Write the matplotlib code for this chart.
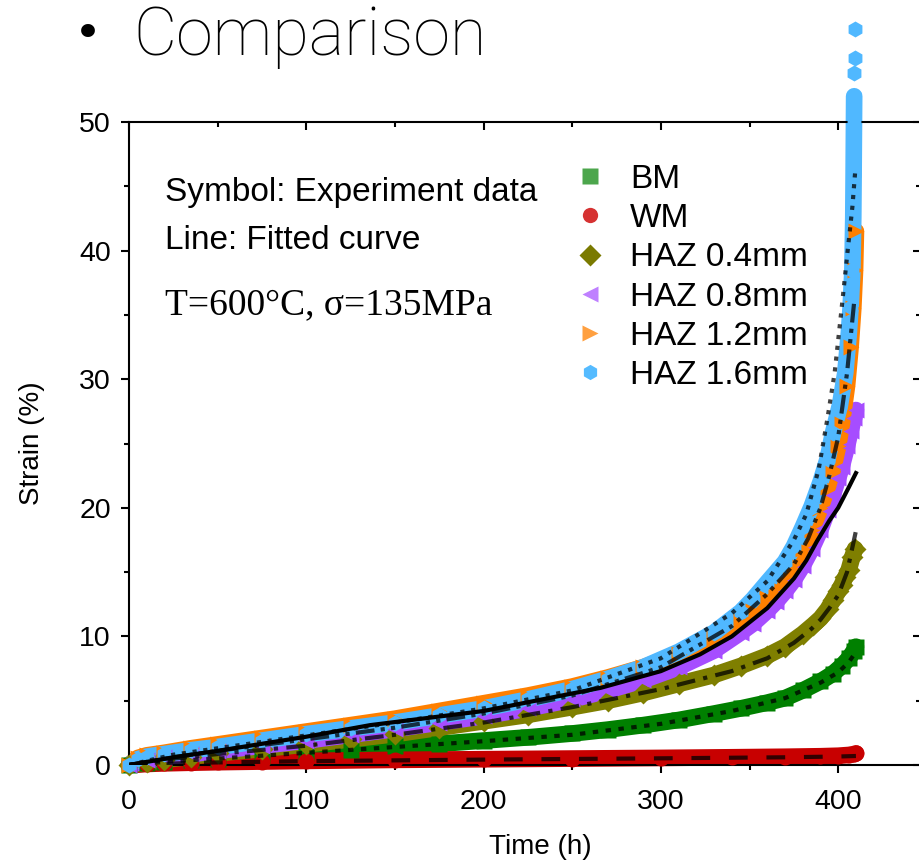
import matplotlib
matplotlib.use("Agg")
import matplotlib.pyplot as plt
from matplotlib.lines import Line2D
from matplotlib.ticker import MultipleLocator

plt.rcParams['font.family'] = ['Liberation Sans', 'DejaVu Sans']

bm_t = [0, 10, 20, 35, 50, 75, 100, 125, 150, 175, 200, 225, 250, 270, 290, 310, 330, 345, 360, 370, 380, 390, 397, 402, 406, 409, 410]
bm_e = [0, 0.12, 0.25, 0.38, 0.5, 0.72, 0.95, 1.2, 1.45, 1.65, 1.9, 2.15, 2.45, 2.75, 3.1, 3.5, 4.0, 4.4, 4.85, 5.2, 5.8, 6.5, 7.1, 7.7, 8.3, 8.9, 9.2]

wm_t = [0, 10, 20, 35, 50, 75, 100, 150, 200, 250, 300, 340, 370, 390, 400, 406, 409, 410]
wm_e = [0, 0.08, 0.13, 0.18, 0.22, 0.27, 0.32, 0.4, 0.45, 0.5, 0.55, 0.6, 0.64, 0.68, 0.72, 0.78, 0.85, 0.9]

h04_t = [0, 10, 20, 35, 50, 75, 100, 125, 150, 175, 200, 225, 250, 270, 290, 310, 330, 345, 360, 370, 380, 386, 390, 394, 397, 400, 402, 404, 406, 408, 409.5]
h04_e = [0, 0.2, 0.4, 0.65, 0.9, 1.25, 1.6, 2.0, 2.4, 2.9, 3.4, 3.9, 4.5, 5.0, 5.6, 6.3, 7.0, 7.7, 8.5, 9.2, 10.2, 10.9, 11.4, 12.1, 12.8, 13.5, 14.0, 14.6, 15.2, 16.2, 16.8]

h08_t = [0, 10, 20, 35, 50, 75, 100, 125, 150, 175, 200, 225, 250, 270, 290, 310, 330, 345, 352, 360, 365, 370, 375, 380, 385, 390, 394, 397, 400, 402, 405, 407, 409, 410]
h08_e = [0, 0.35, 0.6, 0.85, 1.1, 1.5, 1.9, 2.35, 2.8, 3.3, 3.8, 4.4, 5.1, 5.8, 6.6, 7.6, 8.9, 10.3, 11.0, 12.0, 12.7, 13.5, 14.4, 15.5, 16.8, 18.3, 19.8, 21.0, 22.3, 23.2, 24.8, 26.0, 27.0, 27.6]

h12_t = [0, 5, 10, 20, 35, 50, 75, 100, 125, 150, 175, 200, 225, 250, 270, 290, 310, 330, 345, 352, 360, 365, 370, 375, 380, 385, 390, 394, 397, 400, 402, 405, 407, 408.5, 409.5, 410]
h12_e = [0, 0.55, 0.75, 0.95, 1.3, 1.6, 2.1, 2.6, 3.1, 3.6, 4.2, 4.8, 5.4, 6.1, 6.8, 7.6, 8.6, 9.9, 11.2, 12.0, 13.0, 13.8, 14.6, 15.6, 16.8, 18.3, 20.0, 21.6, 23.0, 24.8, 26.5, 29.5, 32.5, 35.5, 38.5, 41.5]

h16_t = [0, 5, 10, 20, 35, 50, 75, 100, 125, 150, 175, 200, 225, 250, 270, 290, 310, 330, 345, 352, 360, 365, 370, 375, 380, 385, 390, 394, 397, 401, 404, 406, 407, 408, 408.5, 408.7, 408.9, 409.0, 409.1, 409.2, 409.3]
h16_e = [0, 0.45, 0.65, 0.85, 1.15, 1.4, 1.9, 2.4, 2.85, 3.3, 3.85, 4.4, 5.1, 5.9, 6.7, 7.6, 8.8, 10.3, 11.9, 12.9, 14.2, 15.0, 15.8, 17.0, 18.5, 20.1, 22.0, 23.8, 25.8, 28.0, 30.5, 33.6, 35.6, 38.5, 42.6, 46.0, 50.0, 52.0, 53.8, 55.0, 57.2]

# fitted curves
fit_bm_t = [0, 25, 50, 100, 150, 200, 250, 300, 340, 370, 390, 400, 406, 410]
fit_bm_e = [0, 0.3, 0.5, 0.95, 1.4, 1.85, 2.35, 3.2, 4.2, 5.2, 6.4, 7.2, 8.0, 8.8]
fit_wm_t = [0, 25, 50, 100, 200, 300, 370, 400, 410]
fit_wm_e = [0, 0.12, 0.2, 0.3, 0.42, 0.52, 0.6, 0.66, 0.7]
fit_h04_t = [0, 25, 50, 100, 150, 200, 250, 300, 340, 360, 375, 385, 390, 395, 400, 405, 410]
fit_h04_e = [0, 0.5, 0.85, 1.5, 2.35, 3.3, 4.5, 5.9, 7.3, 8.3, 9.5, 10.6, 11.3, 12.2, 13.2, 15.0, 18.2]
fit_h08_t = [0, 25, 50, 100, 136, 200, 266, 300, 322, 340, 360, 375, 382, 388, 395, 400, 403, 406, 410]
fit_h08_e = [0, 0.6, 1.1, 2.2, 3.1, 4.2, 6.0, 7.3, 8.6, 10.0, 12.2, 14.5, 15.9, 17.4, 19.0, 20.0, 20.8, 21.6, 22.7]
fit_h12_t = [0, 25, 50, 100, 150, 200, 250, 300, 340, 360, 375, 383, 390, 395, 400, 405, 409]
fit_h12_e = [0, 0.6, 1.1, 2.0, 2.9, 4.0, 5.4, 7.6, 10.8, 13.3, 15.6, 17.6, 20.0, 22.5, 25.5, 30.5, 36.0]
fit_h16_t = [0, 25, 50, 100, 150, 200, 250, 300, 340, 360, 375, 382, 389, 394, 398, 402, 405.5, 408, 409.5]
fit_h16_e = [0, 0.8, 1.3, 2.3, 3.3, 4.4, 5.8, 8.3, 11.8, 14.3, 17.5, 19.5, 23.0, 27.0, 30.5, 35.6, 40.2, 43.4, 46.0]

labels = ['BM', 'WM', 'HAZ 0.4mm', 'HAZ 0.8mm', 'HAZ 1.2mm', 'HAZ 1.6mm']
markers = ['s', 'o', 'D', '<', '>', 'h']
band_colors = ['#008000', '#c80000', '#7f7f00', '#a64dff', '#ff8000', '#50b8ff']
legend_colors = ['#4ca64c', '#d63232', '#7a7a00', '#bf80ff', '#ffa040', '#55bbff']

series = [(bm_t, bm_e), (wm_t, wm_e), (h04_t, h04_e), (h08_t, h08_e), (h12_t, h12_e), (h16_t, h16_e)]
fits = [(fit_bm_t, fit_bm_e, (1.3, 1.8)),
        (fit_wm_t, fit_wm_e, (4.5, 4.5)),
        (fit_h04_t, fit_h04_e, (4.5, 2, 1, 2)),
        (fit_h08_t, fit_h08_e, None),
        (fit_h12_t, fit_h12_e, (4.5, 1.5, 1, 1.5, 1, 1.5)),
        (fit_h16_t, fit_h16_e, (1.0, 1.6))]

fig = plt.figure(figsize=(9.2, 8.67), dpi=100)
ax = fig.add_axes([129 / 920, 102 / 867, 792 / 920, 643 / 867])

for (t, e), m, bc in zip(series, markers, band_colors):
    # dense band of points: draw the run as a thick strip, the last scattered points only as symbols
    tb = [ti for ti, ei in zip(t, e) if ei < 53]
    eb = [ei for ei in e if ei < 53]
    ax.plot(tb, eb, '-', color=bc, lw=12, solid_capstyle='round', clip_on=False, zorder=2)
    ax.plot(t, e, linestyle='none', marker=m, ms=11.5, color=bc, mec='none', clip_on=False, zorder=3)

for t, e, ds in fits:
    if ds is None:
        ax.plot(t, e, '-', color='black', lw=3, zorder=5)
    else:
        ax.plot(t, e, '-', color='black', lw=3, alpha=0.75, dashes=ds, zorder=5)

ax.set_xlim(0, 446.7)
ax.set_ylim(0, 50)
ax.xaxis.set_major_locator(MultipleLocator(100))
ax.xaxis.set_minor_locator(MultipleLocator(50))
ax.yaxis.set_major_locator(MultipleLocator(10))
ax.yaxis.set_minor_locator(MultipleLocator(5))
ax.tick_params(which='both', top=True, right=True, width=1.5, labelsize=20.5, direction='out')
ax.tick_params(which='major', length=6)
ax.tick_params(which='minor', length=3.5)
ax.tick_params(axis='x', pad=11)
ax.tick_params(axis='y', pad=7)
# top / right ticks point inward
for tk in ax.xaxis.get_major_ticks() + ax.xaxis.get_minor_ticks():
    tk.tick2line.set_marker(3)
for tk in ax.yaxis.get_major_ticks() + ax.yaxis.get_minor_ticks():
    tk.tick2line.set_marker(0)
for s in ax.spines.values():
    s.set_linewidth(1.5)
ax.set_xlabel('Time (h)', fontsize=20)
ax.set_ylabel('Strain (%)', fontsize=20)
ax.xaxis.set_label_coords(0.519, -0.108)
ax.yaxis.set_label_coords(-0.106, 0.5)

handles = [Line2D([], [], linestyle='none', marker=m, ms=11, color=c, mec='none')
           for m, c in zip(markers, legend_colors)]
fig.legend(handles, labels, loc='upper left', bbox_to_anchor=(570 / 920, 1 - 164 / 867),
           frameon=False, fontsize=24, handlelength=1.2, handletextpad=0.6,
           labelspacing=0.245, borderpad=0, borderaxespad=0)

fig.text(165 / 920, 1 - 201 / 867, 'Symbol: Experiment data', fontsize=24, va='baseline')
fig.text(165 / 920, 1 - 249 / 867, 'Line: Fitted curve', fontsize=24, va='baseline')
fig.text(165 / 920, 1 - 314 / 867, 'T=600°C, σ=135MPa', fontsize=27, va='baseline',
         family=['Liberation Serif', 'DejaVu Serif'])

fig.text(74 / 920, 1 - 48 / 867, '•', fontsize=34, va='baseline', family=['DejaVu Sans'])
fig.text(133 / 920, 1 - 55 / 867, 'Comparison', fontsize=48, va='baseline',
         family=['Roboto', 'DejaVu Sans'], fontweight='light')

fig.savefig('out.png', dpi=100)
